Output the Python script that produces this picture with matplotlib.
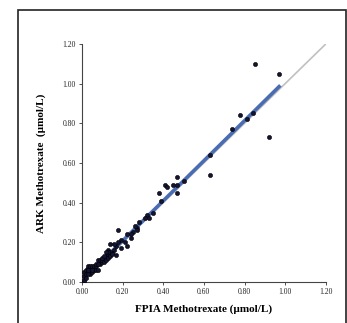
import matplotlib.pyplot as plt
from matplotlib.patches import Rectangle

# FPIA (x) vs ARK (y) methotrexate, umol/L
fpia = [0.85, 0.97, 0.78, 0.74, 0.81, 0.84, 0.92, 0.63, 0.63, 0.50,
        0.47, 0.47, 0.45, 0.47, 0.41, 0.42, 0.38, 0.39, 0.35, 0.32,
        0.33, 0.31, 0.28, 0.27, 0.27, 0.26, 0.25, 0.24, 0.24, 0.22,
        0.22, 0.21, 0.18, 0.19, 0.18, 0.19, 0.17, 0.16, 0.16, 0.17,
        0.15, 0.14, 0.13,
        0.01, 0.01, 0.01, 0.01, 0.02, 0.02, 0.03, 0.03, 0.03, 0.04,
        0.04, 0.04, 0.05, 0.05, 0.05, 0.06, 0.06, 0.06, 0.07, 0.07,
        0.08, 0.08, 0.09, 0.09, 0.10, 0.10, 0.11, 0.11, 0.12, 0.12,
        0.13, 0.13, 0.14, 0.13, 0.14, 0.15, 0.12, 0.02, 0.03, 0.07,
        0.08, 0.10, 0.11, 0.03, 0.05]
ark = [1.10, 1.05, 0.84, 0.77, 0.82, 0.85, 0.73, 0.64, 0.54, 0.51,
       0.53, 0.49, 0.49, 0.45, 0.49, 0.48, 0.45, 0.41, 0.35, 0.34,
       0.32, 0.32, 0.30, 0.27, 0.26, 0.28, 0.25, 0.24, 0.22, 0.24,
       0.18, 0.20, 0.26, 0.21, 0.20, 0.17, 0.18, 0.19, 0.16, 0.135,
       0.145, 0.19, 0.16,
       0.00, 0.01, 0.03, 0.05, 0.04, 0.06, 0.05, 0.07, 0.08, 0.06,
       0.08, 0.04, 0.05, 0.07, 0.08, 0.06, 0.07, 0.08, 0.08, 0.06,
       0.11, 0.06, 0.09, 0.11, 0.10, 0.11, 0.12, 0.10, 0.11, 0.13,
       0.12, 0.14, 0.15, 0.15, 0.13, 0.14, 0.15, 0.02, 0.06, 0.09,
       0.09, 0.12, 0.13, 0.04, 0.06]

identity_x = [0.0, 1.2]
fit_x = [0.13, 0.97]
fit_slope = 1.01
fit_icpt = 0.005
ticks = [0.0, 0.2, 0.4, 0.6, 0.8, 1.0, 1.2]

plt.rcParams['font.family'] = ['Liberation Serif', 'DejaVu Serif']

fig = plt.figure(figsize=(3.47, 3.23), dpi=100)
fig.patches.append(Rectangle((0.053, -0.1), 0.945, 1.069, transform=fig.transFigure,
                             fill=False, edgecolor='#222222', linewidth=1.2))

ax = fig.add_axes([0.236, 0.127, 0.703, 0.737])
ax.plot(identity_x, identity_x, color='#c0c0c0', linewidth=1.2, zorder=1)
ax.plot(fit_x, [fit_slope * v + fit_icpt for v in fit_x], color='#4a6cb3',
        linewidth=2.6, zorder=2)
ax.scatter(fpia, ark, s=9, color='#141433', edgecolors='black', linewidths=0.4, zorder=3)

ax.set_xlim(0, 1.2)
ax.set_ylim(0, 1.2)
ax.set_xticks(ticks)
ax.set_yticks(ticks)
ax.set_xticklabels([f"{t:.2f}" for t in ticks])
ax.set_yticklabels([f"{t:.2f}" for t in ticks])
ax.tick_params(labelsize=5.5, length=2.5, width=0.6, direction='out', pad=2, colors='#333333')
ax.tick_params(labelcolor='#222222')
for side in ['top', 'right']:
    ax.spines[side].set_visible(False)
for side in ['left', 'bottom']:
    ax.spines[side].set_linewidth(0.8)
    ax.spines[side].set_color('#444444')

ax.set_xlabel("FPIA Methotrexate (µmol/L)", fontsize=8, fontweight='bold', labelpad=6)
ax.set_ylabel("ARK Methotrexate  (µmol/L)", fontsize=8, fontweight='bold', labelpad=12)

fig.savefig("out.png", dpi=100)
